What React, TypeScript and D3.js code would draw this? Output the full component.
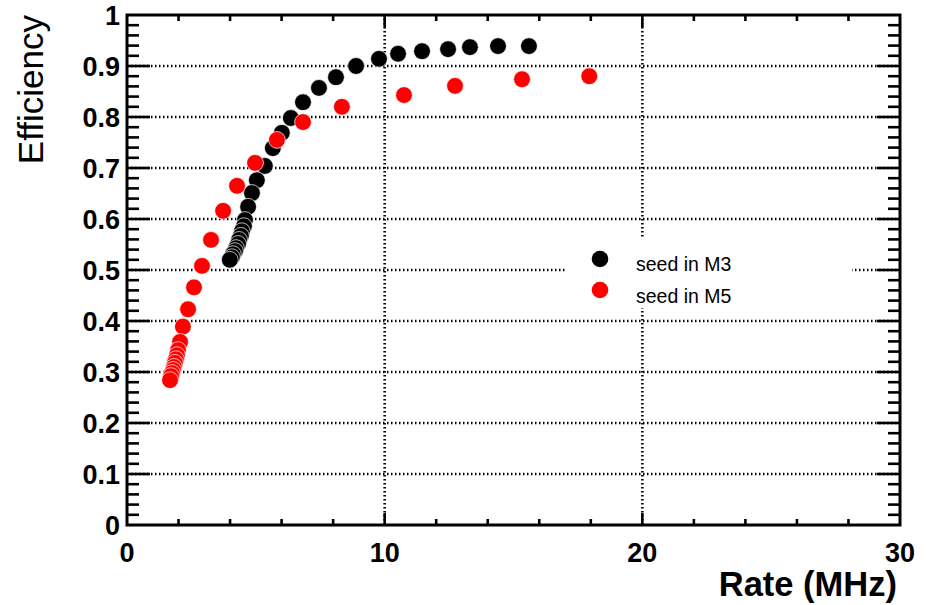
import React from "react";
import * as d3 from "d3";

// ---- data ----
const seriesNames = ["seed in M3", "seed in M5"];
const seriesColors = ["#000000", "#ff0000"];

const m3Rate = [15.60, 14.40, 13.31, 12.46, 11.45, 10.52, 9.78, 8.89, 8.11, 7.45, 6.83, 6.36, 6.01, 5.66, 5.35, 5.04, 4.85, 4.70, 4.58, 4.54, 4.46, 4.42, 4.35, 4.31, 4.23, 4.19, 4.11, 4.07, 3.99];
const m3Eff = [0.939, 0.939, 0.937, 0.933, 0.929, 0.924, 0.914, 0.900, 0.878, 0.857, 0.829, 0.798, 0.769, 0.739, 0.704, 0.676, 0.651, 0.624, 0.598, 0.586, 0.576, 0.567, 0.559, 0.551, 0.543, 0.537, 0.531, 0.525, 0.520];

const m5Rate = [17.94, 15.33, 12.73, 10.75, 8.34, 6.83, 5.82, 4.97, 4.27, 3.73, 3.26, 2.91, 2.60, 2.37, 2.17, 2.06, 1.98, 1.94, 1.90, 1.86, 1.82, 1.79, 1.75, 1.71, 1.67];
const m5Eff = [0.880, 0.874, 0.861, 0.843, 0.820, 0.790, 0.755, 0.710, 0.665, 0.616, 0.559, 0.508, 0.466, 0.423, 0.389, 0.359, 0.343, 0.333, 0.325, 0.318, 0.310, 0.304, 0.298, 0.292, 0.284];

const xMajorTicks = [0, 10, 20, 30];
const yMajorTicks = [0, 0.1, 0.2, 0.3, 0.4, 0.5, 0.6, 0.7, 0.8, 0.9, 1];
const xMinorStep = 2;
const yMinorStep = 0.02;

const xTitle = "Rate (MHz)";
const yTitle = "Efficiency";

// ---- layout ----
const W = 938;
const H = 605;
const L = 127, R = 900, T = 15, B = 525;
const FONT = "'Liberation Sans', Arial, Helvetica, sans-serif";

export default function App() {
  const x = d3.scaleLinear().domain([0, 30]).range([L, R]);
  const y = d3.scaleLinear().domain([0, 1]).range([B, T]);

  const xMinor = d3.range(0, 30 + 1e-9, xMinorStep).filter((v) => v > 0 && v < 30);
  const yMinor = d3.range(0, 1 + 1e-9, yMinorStep).filter((v) => v > 1e-6 && v < 1 - 1e-6);

  const m3 = m3Rate.map((r, i) => [r, m3Eff[i]]);
  const m5 = m5Rate.map((r, i) => [r, m5Eff[i]]);
  const series = [m3, m5];

  const grid = "#000";
  const dash = "1.5,2.5";

  return (
    <svg width={W} height={H} style={{ position: "absolute", left: 0, top: 0, background: "#fff" }} fontFamily={FONT}>
      <rect x={0} y={0} width={W} height={H} fill="#fff" />
      {/* grid */}
      {yMajorTicks.filter((v) => v > 0 && v < 1).map((v) => (
        <line key={"gy" + v} x1={L} x2={R} y1={y(v)} y2={y(v)} stroke={grid} strokeWidth={2.6} strokeDasharray={dash} />
      ))}
      {xMajorTicks.filter((v) => v > 0 && v < 30).map((v) => (
        <line key={"gx" + v} x1={x(v)} x2={x(v)} y1={T} y2={B} stroke={grid} strokeWidth={2.6} strokeDasharray={dash} />
      ))}

      {/* legend box (white, no border) */}
      <rect x={567} y={238} width={285} height={70} fill="#fff" />
      {seriesNames.map((n, i) => (
        <g key={n}>
          <circle cx={600} cy={259 + i * 31} r={8.3} fill={seriesColors[i]} />
          <text x={636} y={271 + i * 32} fontSize={19.5} fill="#000">{n}</text>
        </g>
      ))}

      {/* ticks */}
      {xMinor.map((v) => (
        <g key={"xt" + v}>
          <line x1={x(v)} x2={x(v)} y1={B} y2={B - (v % 10 === 0 ? 12 : 6)} stroke="#000" strokeWidth={2.6} />
          <line x1={x(v)} x2={x(v)} y1={T} y2={T + (v % 10 === 0 ? 12 : 6)} stroke="#000" strokeWidth={2.6} />
        </g>
      ))}
      {yMinor.map((v) => {
        const major = Math.abs(Math.round(v * 10) - v * 10) < 1e-6;
        const len = major ? 23 : 12;
        return (
          <g key={"yt" + v}>
            <line x1={L} x2={L + len} y1={y(v)} y2={y(v)} stroke="#000" strokeWidth={2.6} />
            <line x1={R} x2={R - len} y1={y(v)} y2={y(v)} stroke="#000" strokeWidth={2.6} />
          </g>
        );
      })}

      {/* frame */}
      <rect x={L} y={T} width={R - L} height={B - T} fill="none" stroke="#000" strokeWidth={3} />

      {/* data */}
      {series.map((pts, si) => (
        <g key={"s" + si}>
          {pts.map((p, i) => (
            <circle key={i} cx={x(p[0])} cy={y(p[1])} r={8.4} fill={seriesColors[si]} stroke="#fff" strokeWidth={0.7} />
          ))}
        </g>
      ))}

      {/* tick labels */}
      {yMajorTicks.map((v) => (
        <text key={"yl" + v} x={120} y={y(v) + 9.8} textAnchor="end" fontSize={27} fontWeight="bold" fill="#000">
          {v === 0 || v === 1 ? String(v) : v.toFixed(1)}
        </text>
      ))}
      {xMajorTicks.map((v) => (
        <text key={"xl" + v} x={x(v)} y={562} textAnchor="middle" fontSize={27} fontWeight="bold" fill="#000">
          {String(v)}
        </text>
      ))}

      {/* titles */}
      <text x={897} y={596} textAnchor="end" fontSize={34.5} fontWeight="bold" fill="#000">{xTitle}</text>
      <text transform={`translate(43,${T}) rotate(-90)`} textAnchor="end" fontSize={35} fill="#000">{yTitle}</text>
    </svg>
  );
}
